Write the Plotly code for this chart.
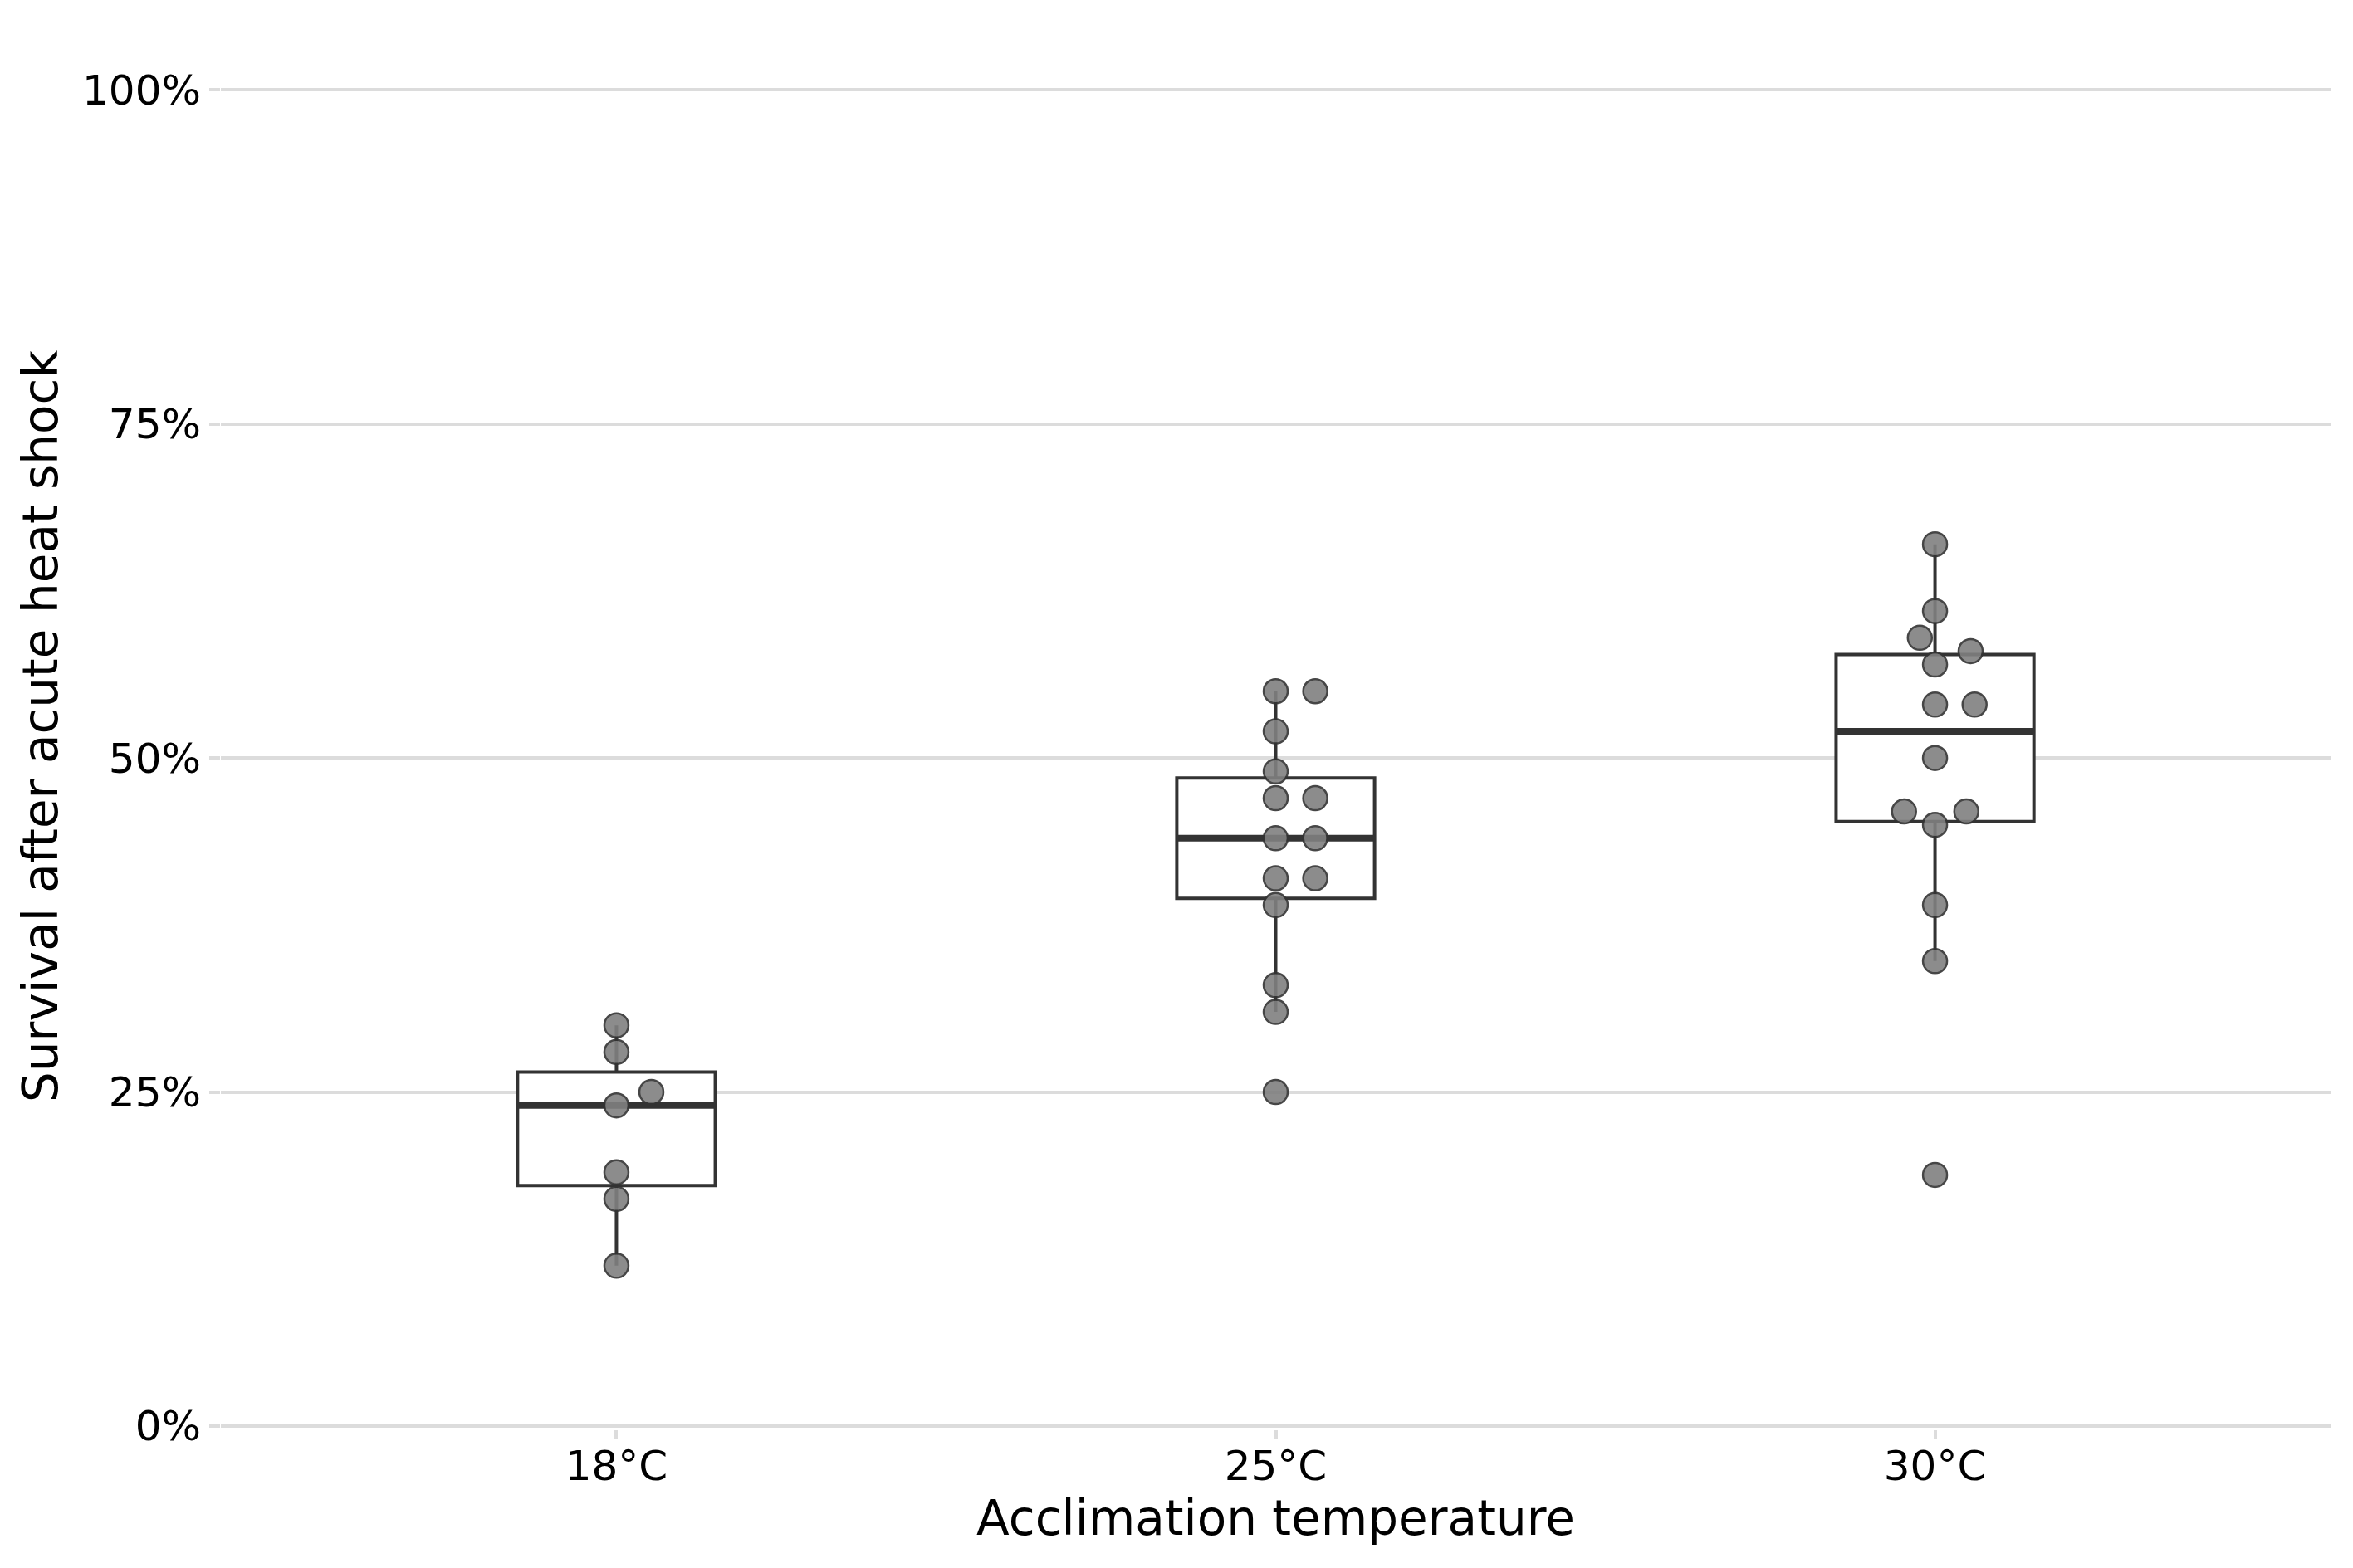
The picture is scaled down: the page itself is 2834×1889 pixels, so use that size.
import numpy as np
import plotly.graph_objects as go

# ---- data ----
categories = ["18°C", "25°C", "30°C"]

surv_18 = [0.30, 0.28, 0.25, 0.24, 0.19, 0.17, 0.12]
dodge_18 = [0, 0, 0.053, 0, 0, 0, 0]

surv_25 = [0.55, 0.55, 0.52, 0.49, 0.47, 0.47, 0.44, 0.44, 0.41, 0.41, 0.39, 0.33, 0.31, 0.25]
dodge_25 = [0, 0.06, 0, 0, 0, 0.06, 0, 0.06, 0, 0.06, 0, 0, 0, 0]

surv_30 = [0.66, 0.61, 0.59, 0.58, 0.57, 0.54, 0.54, 0.50, 0.46, 0.46, 0.45, 0.39, 0.348, 0.188]
dodge_30 = [0, 0, -0.023, 0.054, 0, 0, 0.06, 0, -0.047, 0.0475, 0, 0, 0, 0]

y_ticks = [0, 0.25, 0.5, 0.75, 1.0]
y_ticktext = ["0%", "25%", "50%", "75%", "100%"]

groups = [(surv_18, dodge_18), (surv_25, dodge_25), (surv_30, dodge_30)]

BOX_W = 0.3
DARK = "#333333"
GRID = "#dcdcdc"
FONT = "DejaVu Sans"

fig = go.Figure()

for i, (vals, dodge) in enumerate(groups):
    v = np.asarray(vals, dtype=float)
    q1, med, q3 = np.percentile(v, [25, 50, 75])
    iqr = q3 - q1
    lo = v[v >= q1 - 1.5 * iqr].min()
    hi = v[v <= q3 + 1.5 * iqr].max()
    fig.add_trace(go.Box(
        x=[i], q1=[q1], median=[med], q3=[q3],
        lowerfence=[lo], upperfence=[hi],
        width=BOX_W, whiskerwidth=0, fillcolor="white",
        line=dict(color=DARK, width=4),
        boxpoints=False, showlegend=False, hoverinfo="skip",
    ))
    fig.add_trace(go.Scatter(
        x=[i - BOX_W / 2, i + BOX_W / 2], y=[med, med],
        mode="lines", line=dict(color=DARK, width=8),
        showlegend=False, hoverinfo="skip",
    ))

for i, (vals, dodge) in enumerate(groups):
    fig.add_trace(go.Scatter(
        x=[i + d for d in dodge], y=vals,
        mode="markers",
        marker=dict(size=29, color="#808080", opacity=0.9,
                    line=dict(color=DARK, width=2.5)),
        showlegend=False,
    ))

fig.update_layout(
    width=2834, height=1889,
    margin=dict(l=266, r=27, t=28, b=167),
    paper_bgcolor="white", plot_bgcolor="white",
    font=dict(family=FONT, color="black", size=50),
)

fig.update_xaxes(
    range=[-0.6, 2.6],
    tickmode="array", tickvals=[0, 1, 2], ticktext=categories,
    showgrid=False, zeroline=False, showline=False,
    ticks="outside", ticklen=10, tickwidth=4, tickcolor=GRID,
    ticklabelstandoff=-10,
    tickfont=dict(family=FONT, size=50, color="black"),
    title=dict(text="Acclimation temperature",
               font=dict(family=FONT, size=58, color="black"), standoff=8),
)

fig.update_yaxes(
    range=[-0.0025, 1.05],
    tickmode="array", tickvals=y_ticks, ticktext=y_ticktext,
    showgrid=True, gridcolor=GRID, gridwidth=4,
    zeroline=False, showline=False,
    ticks="outside", ticklen=13, tickwidth=4, tickcolor=GRID,
    tickfont=dict(family=FONT, size=50, color="black"),
    title=dict(text="Survival after acute heat shock",
               font=dict(family=FONT, size=58, color="black"), standoff=10),
)

fig.write_html("out.html")
